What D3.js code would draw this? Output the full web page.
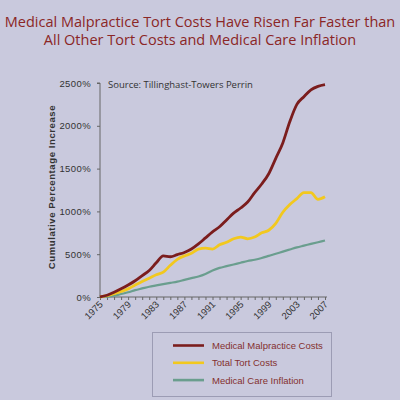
<!DOCTYPE html>
<html><head><meta charset="utf-8">
<script src="https://cdn.jsdelivr.net/npm/d3@7"></script>
<style>
html,body{margin:0;padding:0;background:#c9c9dd;}
svg{display:block;}
</style></head>
<body>
<svg id="c" width="400" height="400"></svg>
<script>
const years = d3.range(1975, 2008);
const malpractice = [0,20,55,95,140,190,250,310,400,480,470,495,520,560,620,690,760,820,900,980,1040,1110,1220,1320,1440,1620,1800,2050,2250,2340,2420,2460,2480];
const totalTort = [0,15,40,65,95,140,180,220,260,290,370,440,480,510,560,570,560,610,640,680,700,680,700,750,780,860,990,1080,1150,1220,1220,1140,1170];
const medInflation = [0,5,15,35,55,80,100,120,135,150,165,180,200,220,240,270,310,340,360,380,400,420,435,455,480,505,530,555,580,600,620,640,660];
const yTicks = [0,500,1000,1500,2000,2500];
const xLabels = [1975,1979,1983,1987,1991,1995,1999,2003,2007];
const seriesNames = ["Medical Malpractice Costs","Total Tort Costs","Medical Care Inflation"];
const seriesColors = ["#7b1d1d","#f2c81e","#6a9e8e"];
const titleLines = ["Medical Malpractice Tort Costs Have Risen Far Faster than","All Other Tort Costs and Medical Care Inflation"];

const svg = d3.select("#c");
svg.append("rect").attr("width",400).attr("height",400).attr("fill","#c9c9dd");

svg.selectAll("text.title").data(titleLines).join("text")
  .attr("x",200).attr("y",(d,i)=>27+i*18)
  .attr("text-anchor","middle")
  .attr("font-family","'Open Sans', sans-serif").attr("font-size",14.5)
  .attr("fill","#8b2626").text(d=>d);

const x = d3.scaleLinear().domain([1975,2007]).range([100,325]);
const y = d3.scaleLinear().domain([0,2500]).range([297,83]);

// y axis
const ya = svg.append("g").attr("transform","translate(100,0)")
  .call(d3.axisLeft(y).tickValues(yTicks).tickSize(3).tickFormat(d=>d+"%"));
ya.select(".domain").attr("stroke","#666").attr("d","M-3,83H0V297");
ya.selectAll(".tick line").attr("stroke","#666");
ya.selectAll(".tick text").attr("font-family","'Liberation Sans', Arial, sans-serif").attr("font-size",9.5)
  .attr("fill","#333").attr("x",-9).attr("letter-spacing",0.4);

// x axis
const xa = svg.append("g").attr("transform","translate(0,297)")
  .call(d3.axisBottom(x).tickValues(years).tickSize(3).tickFormat(d=>xLabels.includes(d)?String(d):""));
xa.select(".domain").attr("stroke","#666").attr("d","M100,0H327");
xa.selectAll(".tick line").attr("stroke","#666");
xa.selectAll(".tick text").attr("font-family","'Liberation Sans', Arial, sans-serif").attr("font-size",9.5)
  .attr("fill","#333").attr("text-anchor","end").attr("dy",0).attr("y",0)
  .attr("transform","translate(3,8) rotate(-45)");

// y label
svg.append("text").attr("transform","translate(55,187) rotate(-90)")
  .attr("text-anchor","middle").attr("font-family","'Liberation Sans', Arial, sans-serif")
  .attr("font-weight","bold").attr("font-size",9.5).attr("letter-spacing",0.6).attr("fill","#333")
  .text("Cumulative Percentage Increase");

svg.append("text").attr("x",108).attr("y",88)
  .attr("font-family","'Open Sans', sans-serif").attr("font-size",9.5).attr("fill","#333")
  .text("Source: Tillinghast-Towers Perrin");

const series = [malpractice,totalTort,medInflation];
const line = d3.line().x((d,i)=>x(years[i])).y(d=>y(d)).curve(d3.curveMonotoneX);
[2,1,0].forEach(k=>{
  svg.append("path").datum(series[k]).attr("d",line).attr("fill","none")
    .attr("stroke",seriesColors[k]).attr("stroke-width",k===2?2.2:2.8).attr("stroke-linejoin","round");
});

// legend
svg.append("rect").attr("x",152.5).attr("y",332.5).attr("width",179).attr("height",64)
  .attr("fill","none").attr("stroke","#9c9cb4").attr("stroke-width",1);
const lg = svg.selectAll("g.lg").data(seriesNames).join("g").attr("transform",(d,i)=>`translate(0,${345.5+i*17.3})`);
lg.append("line").attr("x1",173).attr("x2",204).attr("stroke",(d,i)=>seriesColors[i]).attr("stroke-width",2.6);
lg.append("text").attr("x",212).attr("y",3.5).attr("font-family","'Liberation Sans', Arial, sans-serif")
  .attr("font-size",9.5).attr("fill","#84302e").text(d=>d);
</script>
</body></html>
